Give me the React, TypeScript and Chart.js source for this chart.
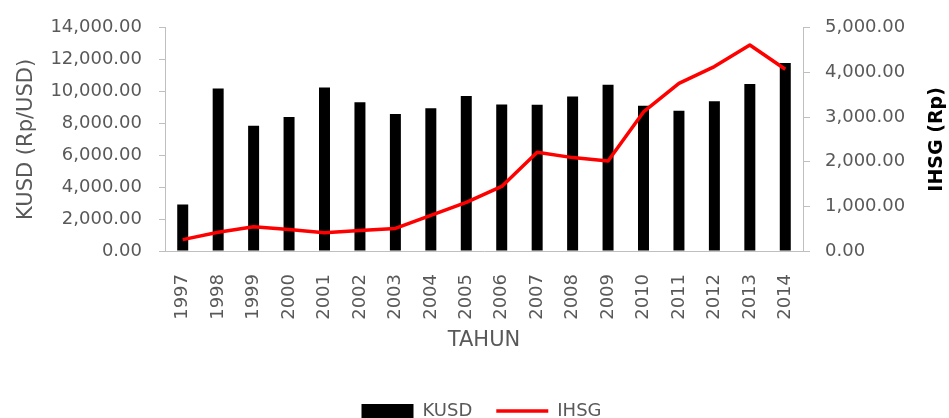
import React, { useEffect, useRef } from 'react';
import { Chart, registerables } from 'chart.js';

Chart.register(...registerables);

const years = ['1997', '1998', '1999', '2000', '2001', '2002', '2003', '2004', '2005', '2006', '2007', '2008', '2009', '2010', '2011', '2012', '2013', '2014'];
const kusdValues = [2920, 10200, 7860, 8400, 10260, 9330, 8590, 8960, 9730, 9190, 9170, 9690, 10430, 9110, 8800, 9390, 10480, 11790];
const ihsgValues = [255, 420, 545, 480, 410, 460, 505, 800, 1090, 1446, 2212, 2092, 2018, 3115, 3754, 4132, 4615, 4072];

const leftAxisTitle = 'KUSD (Rp/USD)';
const rightAxisTitle = 'IHSG (Rp)';
const xAxisTitle = 'TAHUN';

const FONT = '"DejaVu Sans", sans-serif';
const GRAY_TEXT = '#595959';
const AXIS_GRAY = '#BFBFBF';

const fmt = (v: number) =>
  Number(v).toLocaleString('en-US', { minimumFractionDigits: 2, maximumFractionDigits: 2 });

const rightTitlePlugin = {
  id: 'rightTitle',
  afterDraw(chart: any) {
    const { ctx, chartArea } = chart;
    const s = chart.scales.y1;
    ctx.save();
    ctx.translate(s.right - 12, (chartArea.top + chartArea.bottom) / 2);
    ctx.rotate(-Math.PI / 2);
    ctx.font = `bold 19px ${FONT}`;
    ctx.fillStyle = '#000000';
    ctx.textAlign = 'center';
    ctx.textBaseline = 'middle';
    ctx.fillText(rightAxisTitle, 0, 0);
    ctx.restore();
  },
};

export default function App() {
  const ref = useRef<HTMLCanvasElement | null>(null);

  useEffect(() => {
    if (!ref.current) return;
    Chart.defaults.font.family = FONT;
    const chart = new Chart(ref.current, {
      type: 'bar',
      data: {
        labels: years,
        datasets: [
          {
            type: 'bar',
            label: 'KUSD',
            data: kusdValues,
            backgroundColor: '#000000',
            borderWidth: 0,
            barPercentage: 0.31,
            categoryPercentage: 1,
            yAxisID: 'y',
            order: 1,
            pointStyle: 'rect',
          } as any,
          {
            type: 'line',
            label: 'IHSG',
            data: ihsgValues,
            borderColor: '#FF0000',
            backgroundColor: '#FF0000',
            borderWidth: 3.5,
            pointRadius: 0,
            pointHoverRadius: 0,
            pointBorderWidth: 3.5,
            pointBorderColor: '#FF0000',
            pointStyle: 'line',
            tension: 0,
            borderJoinStyle: 'round',
            yAxisID: 'y1',
            order: 0,
          } as any,
        ],
      },
      options: {
        responsive: false,
        animation: false,
        layout: { padding: { left: 14, right: 0, top: 26, bottom: 0 } },
        plugins: {
          legend: {
            position: 'bottom',
            maxHeight: 40,
            labels: {
              usePointStyle: true,
              pointStyleWidth: 52,
              boxHeight: 14,
              padding: 24,
              color: GRAY_TEXT,
              font: { size: 18, family: FONT },
              sort: (a: any, b: any) => a.datasetIndex - b.datasetIndex,
            },
          } as any,
          tooltip: { enabled: false },
        },
        scales: {
          x: {
            grid: { display: false },
            border: { display: true, color: AXIS_GRAY, width: 1 },
            ticks: {
              minRotation: 90,
              maxRotation: 90,
              autoSkip: false,
              padding: 15,
              color: GRAY_TEXT,
              font: { size: 18, family: FONT },
            },
            title: {
              display: true,
              text: xAxisTitle,
              color: GRAY_TEXT,
              font: { size: 21, family: FONT },
              padding: { top: 0, bottom: 25 },
            },
            afterFit(s: any) {
              s.height = 127;
            },
          },
          y: {
            position: 'left',
            min: 0,
            max: 14000,
            ticks: {
              stepSize: 2000,
              padding: 17,
              color: GRAY_TEXT,
              font: { size: 18, family: FONT },
              callback: (v: any) => fmt(v),
            },
            grid: { drawOnChartArea: false, drawTicks: true, tickLength: 6, color: AXIS_GRAY },
            border: { display: true, color: AXIS_GRAY, width: 1 },
            title: {
              display: true,
              text: leftAxisTitle,
              color: GRAY_TEXT,
              font: { size: 21, family: FONT },
              padding: { top: 0, bottom: 0 },
            },
            afterFit(s: any) {
              s.width = 151;
            },
          },
          y1: {
            position: 'right',
            min: 0,
            max: 5000,
            ticks: {
              stepSize: 1000,
              padding: 15,
              color: GRAY_TEXT,
              font: { size: 18, family: FONT },
              callback: (v: any) => fmt(v),
            },
            grid: { drawOnChartArea: false, drawTicks: true, tickLength: 7, color: AXIS_GRAY },
            border: { display: true, color: AXIS_GRAY, width: 1 },
            afterFit(s: any) {
              s.width = 146;
            },
          },
        },
      } as any,
      plugins: [rightTitlePlugin],
    });
    return () => chart.destroy();
  }, []);

  return (
    <div style={{ position: 'absolute', left: 0, top: 0, width: 949, height: 418, background: '#ffffff' }}>
      <canvas ref={ref} width={949} height={418} style={{ display: 'block' }} />
    </div>
  );
}
